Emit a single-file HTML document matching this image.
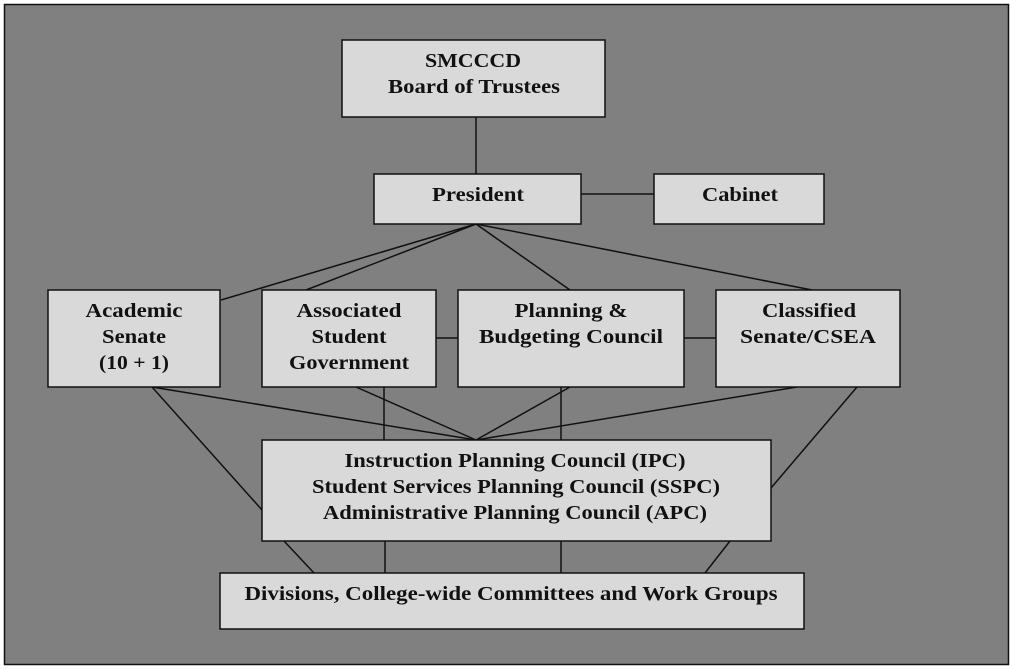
<!DOCTYPE html>
<html><head><style>
body{margin:0;width:1010px;height:669px;background:#fff;overflow:hidden}
svg{position:absolute;left:0;top:0}
text{font-family:"Liberation Serif",serif;font-weight:bold;font-size:19.5px;fill:#111;text-anchor:middle}
</style></head><body>
<svg width="1010" height="669" viewBox="0 0 1010 669">
<rect x="4.5" y="4.5" width="1004" height="660" fill="#808080" stroke="#111" stroke-width="1.5"/>
<g stroke="#111" stroke-width="1.5" fill="none">
<line x1="476" y1="117" x2="476" y2="174"/>
<line x1="581" y1="194" x2="654" y2="194"/>
<line x1="476" y1="224" x2="221" y2="300"/>
<line x1="476" y1="224" x2="306" y2="290"/>
<line x1="476" y1="224" x2="570" y2="290"/>
<line x1="476" y1="224" x2="812" y2="290"/>
<line x1="436" y1="338" x2="458" y2="338"/>
<line x1="684" y1="338" x2="716" y2="338"/>
<line x1="152" y1="387" x2="476" y2="440"/>
<line x1="152" y1="387" x2="262" y2="510"/>
<line x1="384" y1="387" x2="384" y2="440"/>
<line x1="356" y1="387" x2="476" y2="440"/>
<line x1="570" y1="387" x2="476" y2="440"/>
<line x1="561" y1="387" x2="561" y2="440"/>
<line x1="797" y1="387" x2="476" y2="440"/>
<line x1="857" y1="387" x2="771" y2="488"/>
<line x1="284" y1="541" x2="314" y2="573"/>
<line x1="385" y1="541" x2="385" y2="573"/>
<line x1="561" y1="541" x2="561" y2="573"/>
<line x1="730" y1="541" x2="705" y2="573"/>
</g>
<g fill="#d9d9d9" stroke="#111" stroke-width="1.5">
<rect x="342" y="40" width="263" height="77"/>
<rect x="374" y="174" width="207" height="50"/>
<rect x="654" y="174" width="170" height="50"/>
<rect x="48" y="290" width="172" height="97"/>
<rect x="262" y="290" width="174" height="97"/>
<rect x="458" y="290" width="226" height="97"/>
<rect x="716" y="290" width="184" height="97"/>
<rect x="262" y="440" width="509" height="101"/>
<rect x="220" y="573" width="584" height="56"/>
</g>
<g lengthAdjust="spacingAndGlyphs">
<text x="473" y="67" textLength="96" lengthAdjust="spacingAndGlyphs">SMCCCD</text>
<text x="474" y="93" textLength="172" lengthAdjust="spacingAndGlyphs">Board of Trustees</text>
<text x="478" y="201" textLength="92" lengthAdjust="spacingAndGlyphs">President</text>
<text x="740" y="201" textLength="76" lengthAdjust="spacingAndGlyphs">Cabinet</text>
<text x="134" y="317" textLength="97" lengthAdjust="spacingAndGlyphs">Academic</text>
<text x="134" y="343" textLength="64" lengthAdjust="spacingAndGlyphs">Senate</text>
<text x="134" y="369" textLength="70" lengthAdjust="spacingAndGlyphs">(10 + 1)</text>
<text x="349" y="317" textLength="105" lengthAdjust="spacingAndGlyphs">Associated</text>
<text x="349" y="343" textLength="75" lengthAdjust="spacingAndGlyphs">Student</text>
<text x="349" y="369" textLength="120" lengthAdjust="spacingAndGlyphs">Government</text>
<text x="571" y="317" textLength="113" lengthAdjust="spacingAndGlyphs">Planning &amp;</text>
<text x="571" y="343" textLength="184" lengthAdjust="spacingAndGlyphs">Budgeting Council</text>
<text x="809" y="317" textLength="94" lengthAdjust="spacingAndGlyphs">Classified</text>
<text x="808" y="343" textLength="136" lengthAdjust="spacingAndGlyphs">Senate/CSEA</text>
<text x="515" y="467" textLength="341" lengthAdjust="spacingAndGlyphs">Instruction Planning Council (IPC)</text>
<text x="516" y="493" textLength="408" lengthAdjust="spacingAndGlyphs">Student Services Planning Council (SSPC)</text>
<text x="515" y="519" textLength="384" lengthAdjust="spacingAndGlyphs">Administrative Planning Council (APC)</text>
<text x="511" y="600" textLength="533" lengthAdjust="spacingAndGlyphs">Divisions, College-wide Committees and Work Groups</text>
</g>
</svg>
</body></html>
